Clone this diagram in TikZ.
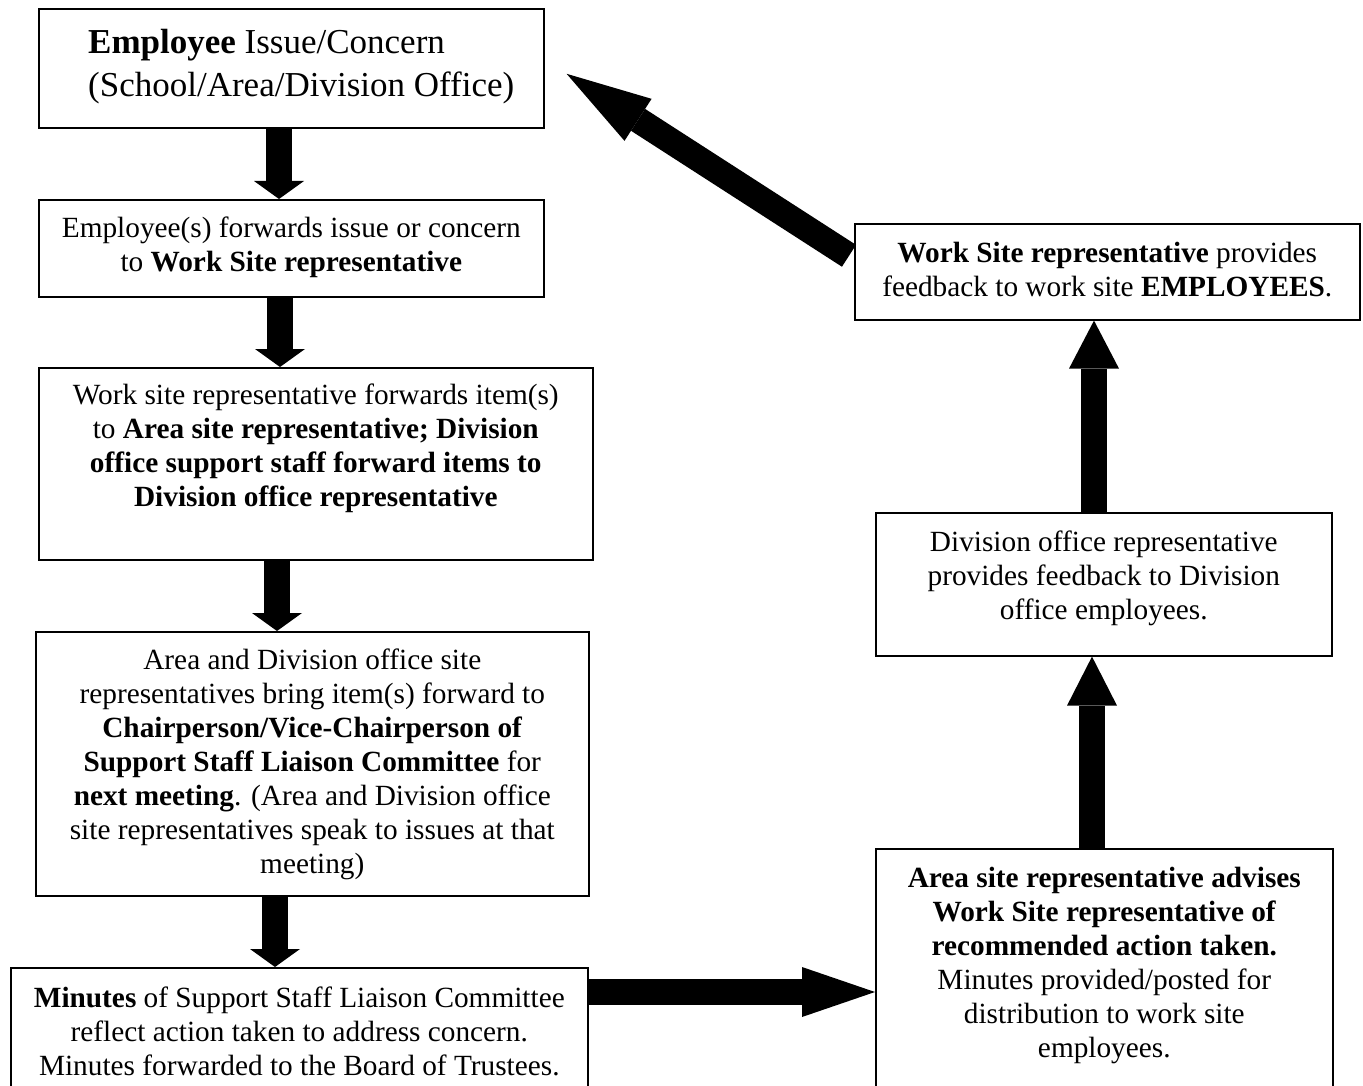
\documentclass[tikz,border=0pt]{standalone}
\usepackage{fontspec}
\setmainfont{Liberation Serif}
\usetikzlibrary{arrows.meta,calc}
\begin{document}
\begin{tikzpicture}[x=1pt,y=-1pt,
  box/.style={draw, line width=1.6pt, inner sep=0pt, anchor=north west},
  txt/.style={inner sep=0pt, align=center, anchor=north, font=\fontsize{29.3}{34}\selectfont},
  bigtxt/.style={inner sep=0pt, align=left, anchor=north west, font=\fontsize{35}{43}\selectfont},
  fat/.style={line width=26pt, -{Triangle[length=#1,width=50pt,line width=0pt]}}
]
\useasboundingbox (0,0) rectangle (1363,1086);
\clip (0,0) rectangle (1363,1086);

% boxes
\node[box, minimum width=505pt, minimum height=119pt] (b1) at (38,8) {};
\node[box, minimum width=505pt, minimum height=97pt] (b2) at (38,199) {};
\node[box, minimum width=554pt, minimum height=192pt] (b3) at (38,367) {};
\node[box, minimum width=553pt, minimum height=264pt] (b4) at (35,631) {};
\node[box, minimum width=577pt, minimum height=130pt] (b5) at (10,967) {};
\node[box, minimum width=457pt, minimum height=250pt] (b6) at (875,848) {};
\node[box, minimum width=505pt, minimum height=96pt] (b7) at (854,223) {};
\node[box, minimum width=456pt, minimum height=143pt] (b8) at (875,512) {};

% texts
\node[bigtxt] (t1) at ($(b1.north west)+(50,19)$)
  {\rule{0pt}{26pt}\textbf{Employee} Issue/Concern\\(School/Area/Division Office)};
\node[txt] (t2) at ($(b2.north)+(0,16)$)
  {\rule{0pt}{22pt}Employee(s) forwards issue or concern\\to \textbf{Work Site representative}};
\node[txt] (t3) at ($(b3.north)+(0,15)$)
  {\rule{0pt}{22pt}Work site representative forwards item(s)\\to \textbf{Area site representative; Division}\\\textbf{office support staff forward items to}\\\textbf{Division office representative}};
\node[txt] (t4) at ($(b4.north)+(0,16)$)
  {\rule{0pt}{22pt}Area and Division office site\\representatives bring item(s) forward to\\\textbf{Chairperson/Vice-Chairperson of}\\\textbf{Support Staff Liaison Committee} for\\\textbf{next meeting}. (Area and Division office\\site representatives speak to issues at that\\meeting)};
\node[txt] (t5) at ($(b5.north)+(0,18)$)
  {\rule{0pt}{22pt}\textbf{Minutes} of Support Staff Liaison Committee\\reflect action taken to address concern.\\Minutes forwarded to the Board of Trustees.};
\node[txt] (t6) at ($(b6.north)+(0,17)$)
  {\rule{0pt}{22pt}\textbf{Area site representative advises}\\\textbf{Work Site representative of}\\\textbf{recommended action taken.}\\Minutes provided/posted for\\distribution to work site\\employees.};
\node[txt] (t7) at ($(b7.north)+(0,17)$)
  {\rule{0pt}{22pt}\textbf{Work Site representative} provides\\feedback to work site \textbf{EMPLOYEES}.};
\node[txt] (t8) at ($(b8.north)+(0,17)$)
  {\rule{0pt}{22pt}Division office representative\\provides feedback to Division\\office employees.};

% arrow guide coordinates
\coordinate (xa1) at (279,0);
\coordinate (xa2) at (280,0);
\coordinate (xa3) at (277,0);
\coordinate (xa4) at (275,0);
\coordinate (ya5) at (0,992);
\coordinate (xa6) at (1092,0);
\coordinate (xa7) at (1094,0);

% arrows
\draw[fat=18pt] (b1.south -| xa1) -- (b2.north -| xa1);
\draw[fat=18pt] (b2.south -| xa2) -- (b3.north -| xa2);
\draw[fat=18pt] (b3.south -| xa3) -- (b4.north -| xa3);
\draw[fat=18pt] (b4.south -| xa4) -- (b5.north -| xa4);
\draw[fat=73pt] (b5.east |- ya5) -- (b6.west |- ya5);
\draw[fat=49pt] (b6.north -| xa6) -- (b8.south -| xa6);
\draw[fat=48pt] (b8.north -| xa7) -- (b7.south -| xa7);
\draw[fat=85pt] ($(b7.west)+(-5,-16)$) -- ($(b1.east)+(22,5.5)$);
\end{tikzpicture}
\end{document}
